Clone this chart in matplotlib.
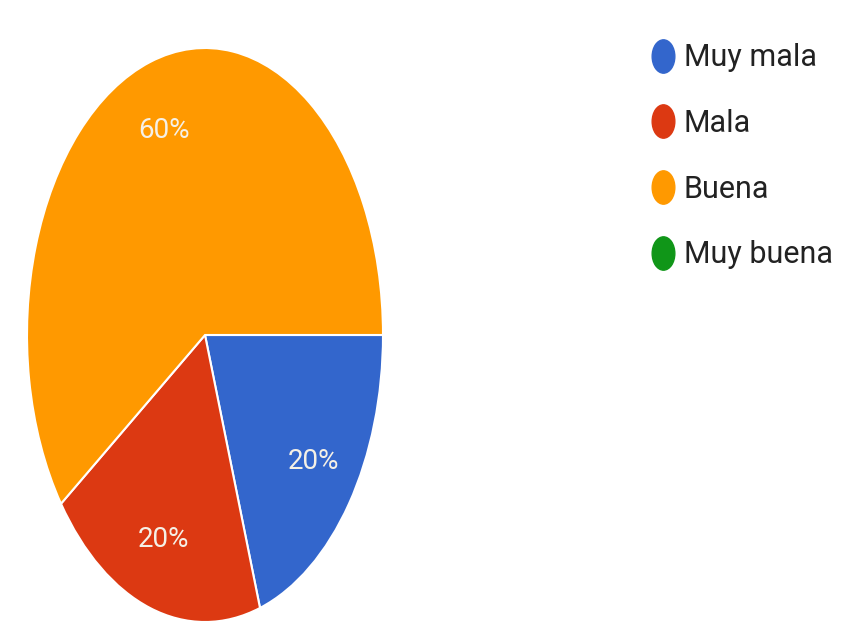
import matplotlib
matplotlib.use("Agg")
import matplotlib.pyplot as plt
from matplotlib.lines import Line2D
from matplotlib.path import Path
from matplotlib.transforms import Affine2D

# data
labels = ["Muy mala", "Mala", "Buena", "Muy buena"]
values = [20, 20, 60, 0]
colors = ["#3366cc", "#dc3912", "#ff9900", "#109618"]

plt.rcParams['font.family'] = ['Roboto', 'DejaVu Sans']

fig = plt.figure(figsize=(8.52, 6.43), dpi=100)
# pie is stretched vertically in the reference, so use an auto-aspect axes
ax = fig.add_axes([27/852, 21/643, 356/852, 574/643])

shown = [v for v in values if v > 0]
shown_colors = [c for v, c in zip(values, colors) if v > 0]
wedges, texts, autotexts = ax.pie(
    shown, colors=shown_colors, startangle=0, counterclock=False,
    autopct='%1.0f%%', pctdistance=0.75,
    wedgeprops=dict(edgecolor='white', linewidth=1.5),
    textprops=dict(color='#f5f0e6', fontsize=20))
ax.set_aspect('auto')
ax.set_xlim(-1, 1)
ax.set_ylim(-1, 1)

# legend with tall ellipse markers
ell = Path.unit_circle().transformed(Affine2D().scale(0.68, 1.0))
handles = [Line2D([], [], linestyle='none', marker=ell, markersize=24,
                  markerfacecolor=c, markeredgecolor=c) for c in colors]
fig.legend(handles, labels, loc='upper left', bbox_to_anchor=(632/852, 1 - 28/643),
           frameon=False, fontsize=22, labelspacing=1.2, handletextpad=0.2,
           handlelength=1.0, borderpad=0, labelcolor='#222222')

fig.savefig("out.png", dpi=100)
